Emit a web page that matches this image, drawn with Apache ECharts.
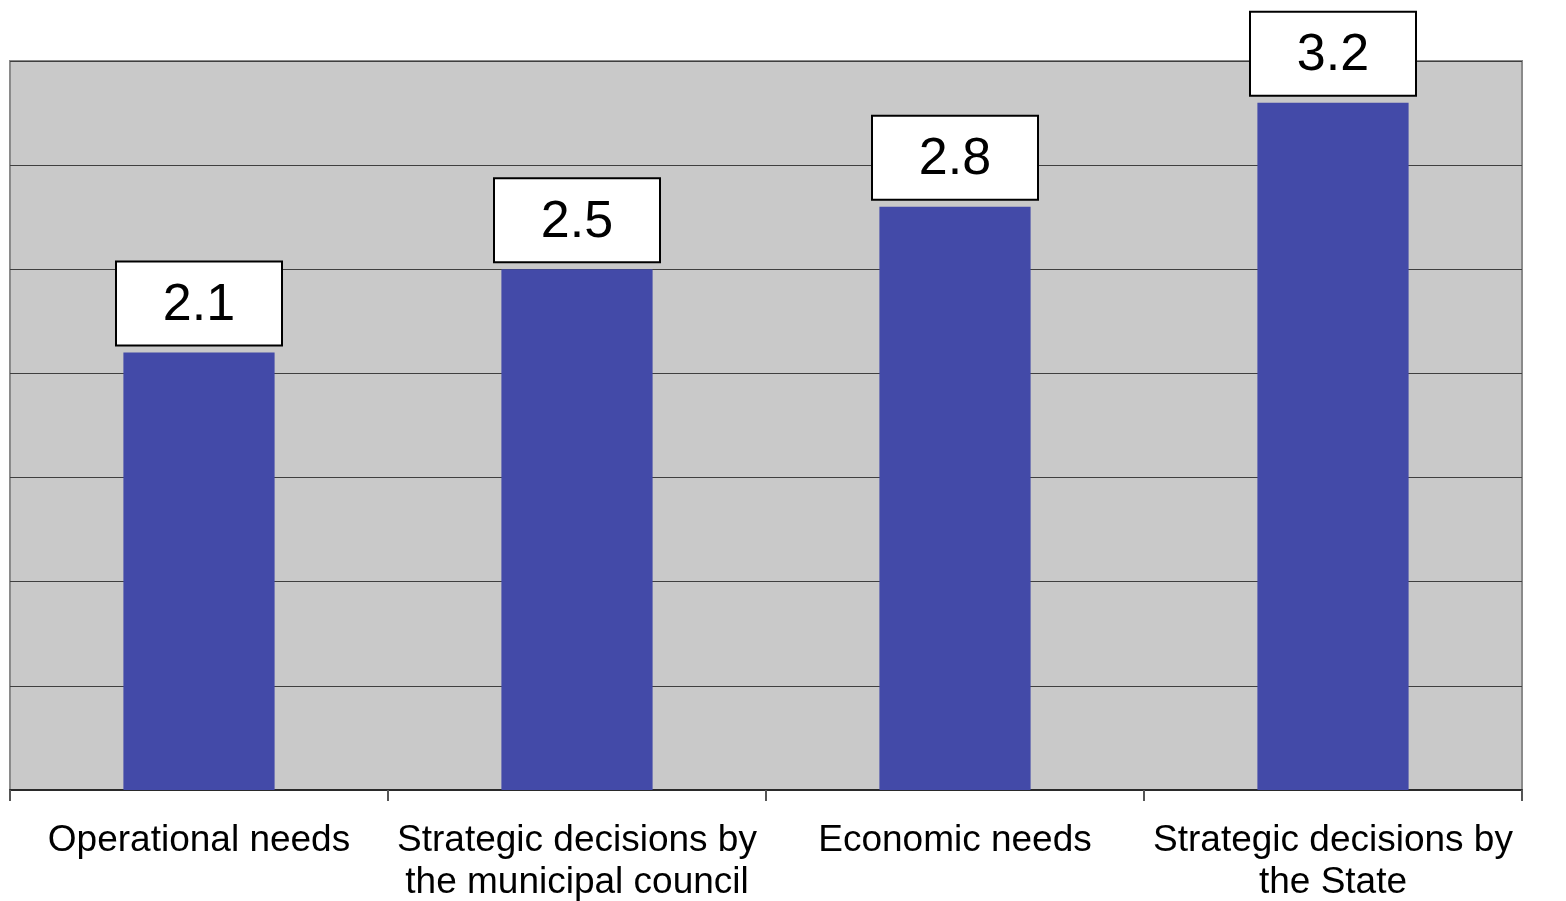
<!DOCTYPE html>
<html>
  <head>
    <meta charset="utf-8">
    <title>ECharts</title>
    <script src="https://cdn.jsdelivr.net/npm/echarts@6/dist/echarts.min.js"></script>
  </head>
  <body style="margin:0;background:#fff;">
    <div id="main" style="width:1566px;height:901px;"></div>
    <script type="text/javascript">
      // categories and values
      var categories = [
        'Operational needs',
        'Strategic decisions by\nthe municipal council',
        'Economic needs',
        'Strategic decisions by\nthe State'
      ];
      // bar heights as drawn
      var barValues = [2.1, 2.5, 2.8, 3.3];
      // value labels as printed in the boxes
      var valueLabels = ['2.1', '2.5', '2.8', '3.2'];

      var myChart = echarts.init(document.getElementById('main'));

      var option = {
        animation: false,
        textStyle: {
          fontFamily: 'Liberation Sans, Arial, sans-serif'
        },
        grid: {
          left: 10,
          right: 44,
          top: 61,
          bottom: 111,
          outerBoundsMode: 'none',
          show: true,
          backgroundColor: '#c9c9c9',
          borderColor: '#8a8a8a',
          borderWidth: 2
        },
        xAxis: {
          type: 'category',
          data: categories,
          axisLine: {lineStyle: {color: '#2a2a2a', width: 2}},
          axisTick: {
            show: true,
            alignWithLabel: false,
            length: 11,
            lineStyle: {color: '#555', width: 2}
          },
          axisLabel: {
            interval: 0,
            margin: 30,
            fontSize: 37,
            lineHeight: 42,
            color: '#000'
          }
        },
        yAxis: {
          type: 'value',
          min: 0,
          max: 3.5,
          interval: 0.5,
          axisLine: {show: false},
          axisTick: {show: false},
          axisLabel: {show: false},
          splitLine: {lineStyle: {color: '#3f3f3f', width: 1}}
        },
        series: [{
          type: 'bar',
          data: barValues,
          barWidth: '40%',
          itemStyle: {color: '#434aa8'},
          label: {
            show: true,
            position: 'top',
            distance: 8,
            formatter: function (p) {
              return valueLabels[p.dataIndex];
            },
            fontSize: 52,
            color: '#000',
            backgroundColor: '#fff',
            borderColor: '#000',
            borderWidth: 2,
            width: 164,
            lineHeight: 56,
            padding: [15, 0, 11, 0],
            align: 'center'
          }
        }]
      };

      myChart.setOption(option);
    </script>
  </body>
</html>
